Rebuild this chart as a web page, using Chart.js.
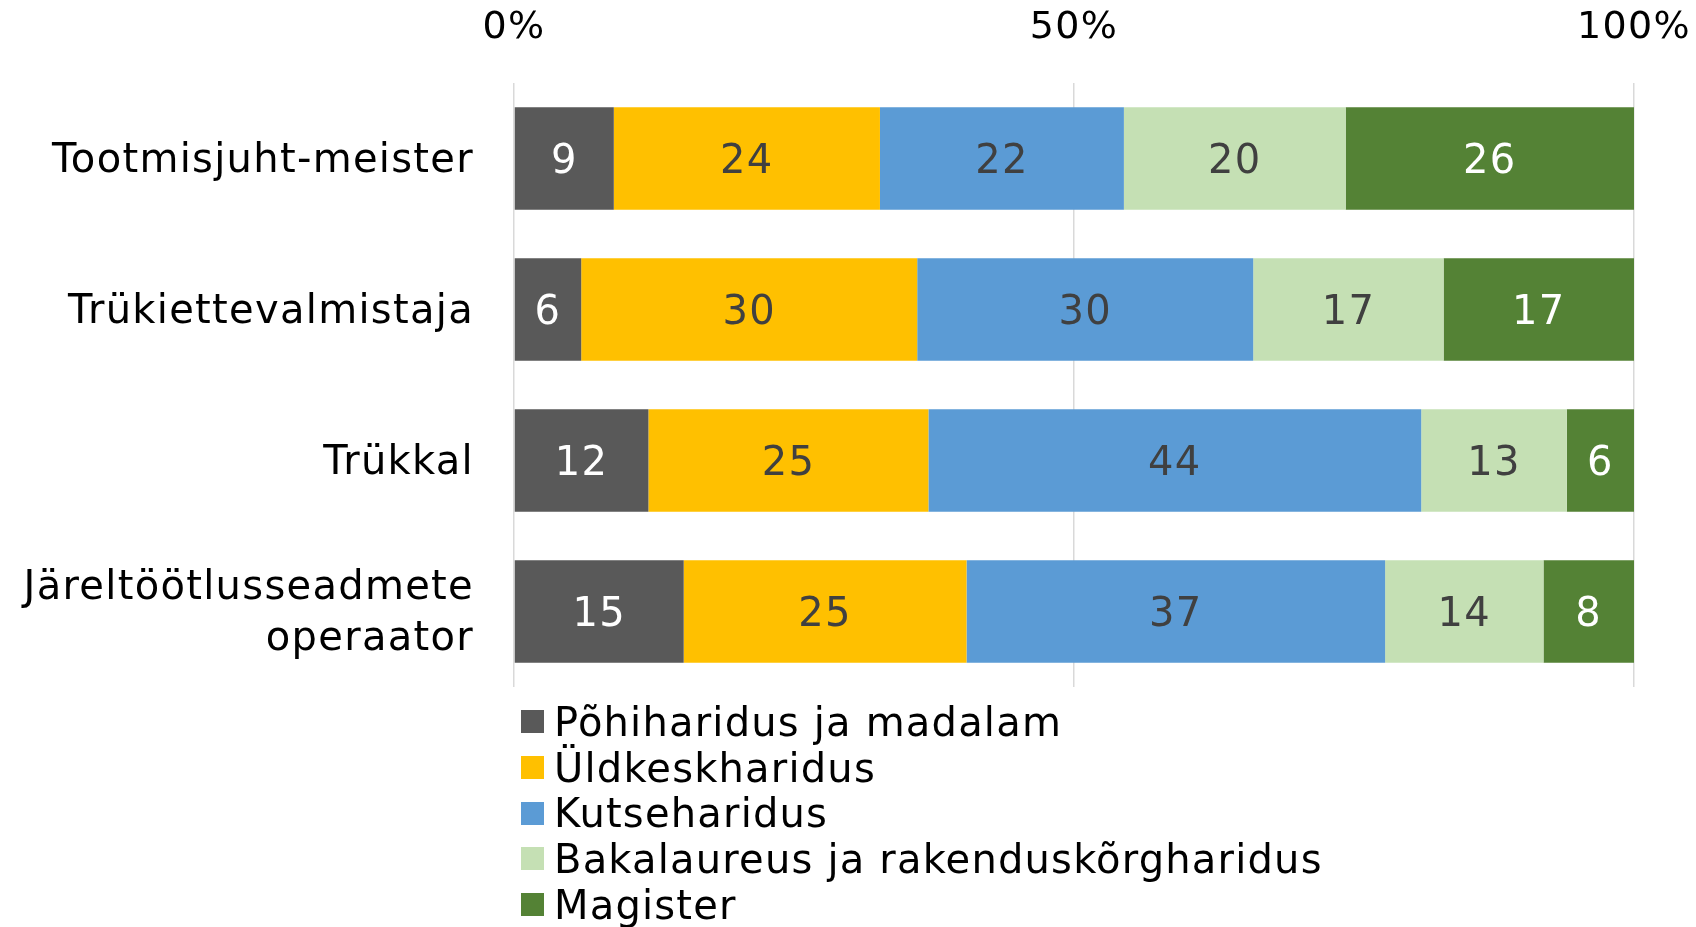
<!DOCTYPE html>
<html>
<head>
<meta charset="utf-8">
<script src="https://cdn.jsdelivr.net/npm/chart.js@4"></script>
<style>
  body { margin: 0; background: #fff; }
  #wrap { position: relative; width: 1696px; height: 927px; }
  #legend { position: absolute; left: 521px; top: 699px; font-family: "DejaVu Sans", sans-serif; font-size: 40px; letter-spacing: 1.2px; color: #000; }
  #legend div { height: 45.7px; display: flex; align-items: center; white-space: nowrap; }
  #legend span.box { display: inline-block; width: 23px; height: 23px; margin-right: 10px; }
</style>
</head>
<body>
<div id="wrap">
  <canvas id="eduChart" width="1696" height="927"></canvas>
  <div id="legend"></div>
</div>
<script>
// Data
const categories = ['Tootmisjuht-meister', 'Trükiettevalmistaja', 'Trükkal', ['Järeltöötlusseadmete', 'operaator']];
const seriesNames = ['Põhiharidus ja madalam', 'Üldkeskharidus', 'Kutseharidus', 'Bakalaureus ja rakenduskõrgharidus', 'Magister'];
const pohiharidus = [9, 6, 12, 15];
const yldkesk = [24, 30, 25, 25];
const kutse = [22, 30, 44, 37];
const bakalaureus = [20, 17, 13, 14];
const magister = [26, 17, 6, 8];
const xTicks = ['0%', '50%', '100%'];

const colors = ['#595959', '#FFC000', '#5B9BD5', '#C5E0B4', '#548235'];
const labelColors = ['#ffffff', '#404040', '#404040', '#404040', '#ffffff'];
const FONT = '"DejaVu Sans", sans-serif';

const series = [pohiharidus, yldkesk, kutse, bakalaureus, magister];
// 100% stacked: share of each row total
const totals = categories.map((c, i) => series.reduce((s, arr) => s + arr[i], 0));

const datasets = series.map((arr, k) => ({
  label: seriesNames[k],
  data: arr.map((v, i) => v / totals[i] * 100),
  raw: arr,
  backgroundColor: colors[k],
  borderWidth: 0,
  categoryPercentage: 0.68,
  barPercentage: 1.0
}));

// wider letter spacing, closer to the original typeface
const spacing = {
  id: 'spacing',
  beforeDraw(chart) { chart.ctx.letterSpacing = '1.3px'; }
};

// Value labels inside each segment
const valueLabels = {
  id: 'valueLabels',
  afterDatasetsDraw(chart) {
    const ctx = chart.ctx;
    ctx.save();
    ctx.font = '40px ' + FONT;
    ctx.textAlign = 'center';
    ctx.textBaseline = 'middle';
    chart.data.datasets.forEach((ds, k) => {
      const meta = chart.getDatasetMeta(k);
      meta.data.forEach((el, i) => {
        const p = el.getProps(['x', 'y', 'base'], true);
        ctx.fillStyle = labelColors[k];
        ctx.fillText(String(ds.raw[i]), (p.x + p.base) / 2, p.y + 4);
      });
    });
    ctx.restore();
  }
};

const ctx = document.getElementById('eduChart').getContext('2d');
const eduChart = new Chart(ctx, {
  type: 'bar',
  data: { labels: categories, datasets: datasets },
  plugins: [spacing, valueLabels],
  options: {
    indexAxis: 'y',
    responsive: false,
    animation: false,
    layout: { padding: { top: 0, right: 62, bottom: 240, left: 0 } },
    plugins: {
      legend: { display: false },
      tooltip: { enabled: false }
    },
    scales: {
      x: {
        position: 'top',
        stacked: true,
        min: 0,
        max: 100,
        afterBuildTicks(scale) {
          scale.ticks = [0, 50, 100].map(v => ({ value: v }));
        },
        afterFit(scale) {
          scale.height = 83;
          scale.paddingLeft = 0;
          scale.paddingRight = 0;
        },
        grid: { color: '#d9d9d9', lineWidth: 1.5, drawTicks: false },
        border: { display: false },
        ticks: {
          padding: 32,
          color: '#000',
          font: { family: FONT, size: 38 },
          callback: (v, i) => xTicks[i]
        }
      },
      y: {
        stacked: true,
        afterFit(scale) {
          scale.width = 514;
          scale.paddingTop = 0;
          scale.paddingBottom = 0;
        },
        grid: { display: false, drawTicks: false },
        border: { display: false },
        ticks: {
          padding: 40,
          labelOffset: 3,
          color: '#000',
          font: { family: FONT, size: 40, lineHeight: 1.27 }
        }
      }
    }
  }
});

// Legend as a vertical list under the bars
const legendEl = document.getElementById('legend');
eduChart.data.datasets.forEach(ds => {
  const row = document.createElement('div');
  const box = document.createElement('span');
  box.className = 'box';
  box.style.background = ds.backgroundColor;
  row.appendChild(box);
  row.appendChild(document.createTextNode(ds.label));
  legendEl.appendChild(row);
});
</script>
</body>
</html>
